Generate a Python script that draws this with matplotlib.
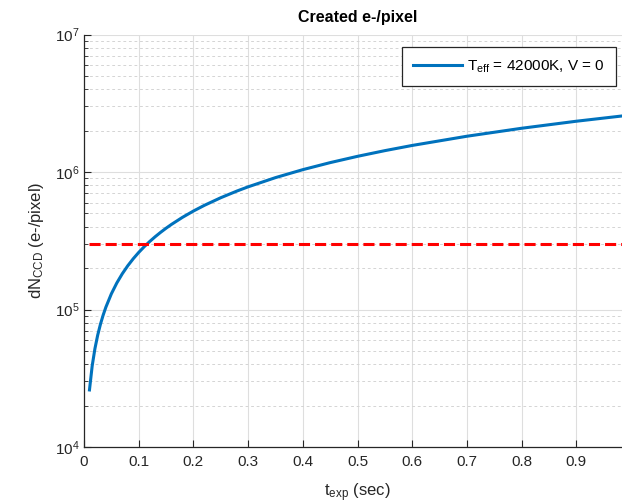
import numpy as np
import matplotlib
matplotlib.use("Agg")
import matplotlib.pyplot as plt

# values
t_exp = [0.01, 0.015, 0.02, 0.025, 0.03, 0.035, 0.04, 0.05, 0.06, 0.07, 0.08, 0.09,
         0.10, 0.11, 0.12, 0.13, 0.14, 0.15, 0.16, 0.18, 0.20, 0.22, 0.25, 0.28,
         0.30, 0.35, 0.40, 0.45, 0.50, 0.55, 0.60, 0.70, 0.80, 0.90, 1.00]
dN_ccd = [2.6e4, 3.9e4, 5.2e4, 6.5e4, 7.8e4, 9.1e4, 1.04e5, 1.3e5, 1.56e5, 1.82e5, 2.08e5, 2.34e5,
          2.6e5, 2.86e5, 3.12e5, 3.38e5, 3.64e5, 3.9e5, 4.16e5, 4.68e5, 5.2e5, 5.72e5, 6.5e5, 7.28e5,
          7.8e5, 9.1e5, 1.04e6, 1.17e6, 1.3e6, 1.43e6, 1.56e6, 1.82e6, 2.08e6, 2.34e6, 2.6e6]
full_well = [3.0e5, 3.0e5]
full_well_t = [0.01, 1.00]
legend_label = r'T$_{\rm eff}$ = 42000K, V = 0'

plt.rcParams['font.family'] = ['Liberation Sans', 'DejaVu Sans']
plt.rcParams['mathtext.fontset'] = 'custom'
plt.rcParams['mathtext.rm'] = 'Liberation Sans'
plt.rcParams['mathtext.it'] = 'Liberation Sans'
plt.rcParams['lines.scale_dashes'] = False

fig = plt.figure(figsize=(6.22, 5.04), dpi=100)
# axes run past the right edge like the cropped original
ax = fig.add_axes([84/622, 57/504, 547/622, 412.5/504])

ax.plot(t_exp, dN_ccd, color='#0072BD', lw=2.2, label=legend_label, zorder=3)
ax.plot(full_well_t, full_well, color='#FF0000', lw=2.2, dashes=(8, 3.6), zorder=3)

ax.set_yscale('log')
ax.set_xlim(0, 1)
ax.set_ylim(1e4, 1e7)
ax.set_xticks(np.arange(0, 1.0, 0.1))
ax.set_xticklabels(['0', '0.1', '0.2', '0.3', '0.4', '0.5', '0.6', '0.7', '0.8', '0.9'])

ax.grid(True, which='major', color='#dedede', lw=0.8, ls='-')
ax.grid(True, which='minor', axis='y', color='#d4d4d4', lw=0.7, ls=(0, (2, 2)))
ax.set_axisbelow(True)

for s in ['top', 'right']:
    ax.spines[s].set_visible(False)
for s in ['left', 'bottom']:
    ax.spines[s].set_color('#262626')
    ax.spines[s].set_linewidth(0.9)

ax.tick_params(which='both', direction='in', colors='#262626', labelsize=11)
ax.tick_params(which='major', length=5)
ax.tick_params(which='minor', length=3)
ax.tick_params(axis='x', pad=6)

ax.set_title('Created e-/pixel', fontsize=11.5, fontweight='bold', pad=9)
ax.set_xlabel(r't$_{\rm exp}$ (sec)', fontsize=12, color='#262626', labelpad=9)
ax.set_ylabel(r'dN$_{\rm CCD}$ (e-/pixel)', fontsize=12, color='#262626', labelpad=6)

leg = ax.legend(loc='upper right', bbox_to_anchor=(0.9726, 0.97), borderaxespad=0,
                fontsize=11, fancybox=False, framealpha=1, edgecolor='#262626',
                handlelength=3.2, borderpad=0.75, handletextpad=0.3)
leg.get_frame().set_linewidth(0.9)

fig.savefig('out.png', dpi=100)
